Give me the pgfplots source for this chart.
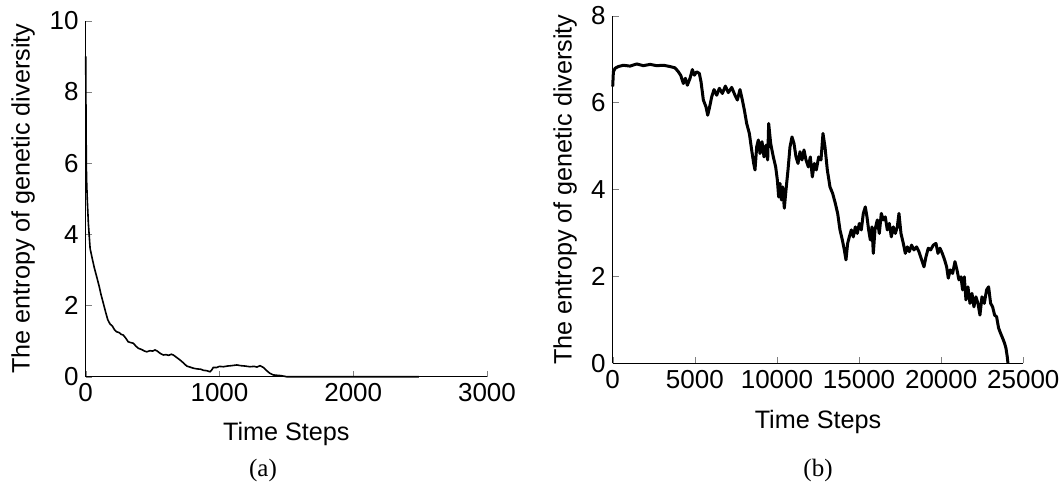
\documentclass[border=0pt]{standalone}
\usepackage{pgfplots}
\pgfplotsset{compat=1.18}
\usepackage{fontspec}
\setmainfont{Liberation Sans}
\newfontfamily\capfont{Liberation Serif}
\pgfplotsset{
  myaxis/.style={
    scale only axis,
    axis x line=bottom, axis y line=left,
    axis line style={-},
    every outer x axis line/.append style={-},
    every outer y axis line/.append style={-},
    tick align=inside,
    major tick length=3pt,
    ymin=0, xmin=0,
    scaled ticks=false,
    /pgf/number format/1000 sep={},
    /pgf/number format/assume math mode=true,
    tick label style={font=\fontsize{13}{15}\selectfont},
    label style={font=\fontsize{12.6}{15}\selectfont},
    clip=false,
  }
}
\begin{document}
\begin{tikzpicture}
\path[use as bounding box] (0,0) rectangle (531.5pt,244.5pt);
\begin{axis}[myaxis,
  at={(42.85pt,56.15pt)}, anchor=south west,
  width=200.65pt, height=178pt,
  xmax=3000, ymax=10,
  xtick={0,1000,2000,3000}, ytick={0,2,4,6,8,10},
  xlabel={Time Steps},
  ylabel={The entropy of genetic diversity},
  xlabel style={at={(axis description cs:0.5,0)}, anchor=north, inner sep=0pt, yshift=-22.5pt},
  ylabel style={at={(axis description cs:-0.156,0.5)}, anchor=center, inner sep=0pt},
]
\addplot[black, line width=0.8pt] coordinates {
(0,9.0) (1,8.3) (3,6.8) (6,5.6) (12,4.96) (20,4.3) (33,3.6) (50,3.3) (65,3.05) (82,2.81) (100,2.55) (115,2.3) (132,2.06) (150,1.8) (165,1.6) (182,1.48) (200,1.42) (215,1.32) (232,1.26) (250,1.24) (265,1.19) (281,1.17) (300,1.08) (318,0.98) (335,0.96) (356,0.94) (375,0.86) (393,0.80) (420,0.76) (440,0.72) (456,0.70) (480,0.73) (500,0.72) (518,0.75) (535,0.72) (555,0.66) (580,0.61) (600,0.62) (620,0.60) (640,0.63) (655,0.61) (680,0.54) (705,0.47) (730,0.39) (755,0.30) (780,0.27) (804,0.24) (830,0.22) (860,0.21) (880,0.18) (904,0.17) (929,0.14) (940,0.18) (954,0.26) (980,0.26) (1000,0.29) (1029,0.28) (1060,0.30) (1090,0.31) (1129,0.33) (1160,0.31) (1190,0.30) (1228,0.28) (1260,0.29) (1280,0.27) (1303,0.31) (1328,0.26) (1350,0.18) (1375,0.10) (1402,0.05) (1430,0.04) (1460,0.03) (1502,0.0) (2490,0.0)
};
\end{axis}
\begin{axis}[myaxis,
  at={(306.35pt,62.85pt)}, anchor=south west,
  width=205.3pt, height=173.8pt,
  xmax=25000, ymax=8,
  xtick={0,5000,10000,15000,20000,25000}, ytick={0,2,4,6,8},
  xlabel={Time Steps},
  ylabel={The entropy of genetic diversity},
  xlabel style={at={(axis description cs:0.5,0)}, anchor=north, inner sep=0pt, yshift=-23.3pt},
  ylabel style={at={(axis description cs:-0.116,0.5)}, anchor=center, inner sep=0pt},
]
\addplot[black, line width=1.5pt, line join=round] coordinates {
(0,6.37) (41,6.71) (142,6.79) (345,6.83) (649,6.86) (1055,6.84) (1461,6.89) (1867,6.85) (2273,6.88) (2678,6.85) (3084,6.86) (3490,6.83) (3794,6.80) (3997,6.71) (4139,6.63) (4301,6.44) (4423,6.56) (4545,6.40) (4707,6.56) (4849,6.76) (4971,6.63) (5113,6.71) (5275,6.67) (5377,6.48) (5519,6.06) (5681,5.90) (5783,5.71) (5884,5.87) (6026,6.13) (6168,6.30) (6330,6.17) (6493,6.33) (6675,6.21) (6858,6.38) (7040,6.23) (7244,6.35) (7446,6.17) (7588,6.06) (7750,6.30) (7893,6.06) (8015,5.83) (8157,5.52) (8319,5.29) (8461,4.91) (8583,4.60) (8664,4.45) (8765,4.98) (8867,5.14) (8968,4.83) (9090,5.10) (9212,4.75) (9333,5.02) (9435,4.68) (9496,5.52) (9617,5.06) (9780,4.75) (9922,4.52) (10024,4.22) (10104,3.83) (10186,4.14) (10267,3.76) (10348,4.06) (10449,3.57) (10551,3.99) (10673,4.45) (10794,4.98) (10916,5.21) (11038,5.06) (11160,4.75) (11281,4.60) (11403,4.87) (11525,4.68) (11646,4.91) (11768,4.68) (11910,4.52) (12032,4.75) (12154,4.29) (12275,4.60) (12397,4.45) (12539,4.75) (12681,4.68) (12803,5.29) (12925,4.98) (13067,4.45) (13229,4.06) (13391,3.91) (13554,3.68) (13696,3.45) (13838,3.07) (13980,2.84) (14102,2.61) (14203,2.38) (14304,2.76) (14406,2.91) (14528,3.07) (14649,2.91) (14771,3.14) (14893,2.99) (15015,3.22) (15136,3.07) (15258,3.45) (15380,3.60) (15481,3.37) (15583,3.07) (15684,2.84) (15786,3.14) (15867,2.53) (15968,3.07) (16110,3.30) (16232,2.99) (16354,3.45) (16476,3.30) (16597,3.37) (16719,3.07) (16841,3.22) (16963,2.91) (17084,3.14) (17206,2.99) (17328,3.14) (17429,3.45) (17551,2.99) (17693,2.76) (17815,2.53) (17937,2.68) (18058,2.57) (18200,2.72) (18342,2.61) (18504,2.68) (18646,2.57) (18809,2.38) (18951,2.22) (19072,2.45) (19214,2.65) (19356,2.61) (19519,2.72) (19681,2.76) (19803,2.53) (19925,2.65) (20067,2.53) (20209,2.38) (20331,2.22) (20432,1.96) (20554,2.15) (20696,2.07) (20838,2.34) (20960,2.15) (21081,1.92) (21203,1.99) (21305,1.69) (21406,1.99) (21507,1.46) (21629,1.76) (21751,1.38) (21873,1.61) (21994,1.30) (22116,1.53) (22238,1.38) (22360,1.11) (22481,1.53) (22623,1.38) (22765,1.69) (22887,1.76) (23009,1.38) (23130,1.30) (23252,1.11) (23374,1.07) (23496,0.81) (23617,0.69) (23739,0.58) (23861,0.46) (23942,0.35) (24023,0.15) (24064,0)
};
\end{axis}
\node[font=\capfont\fontsize{12.5}{15}\selectfont] at (131.5pt,9.5pt) {(a)};
\node[font=\capfont\fontsize{12.5}{15}\selectfont] at (409pt,9.5pt) {(b)};
\end{tikzpicture}
\end{document}
